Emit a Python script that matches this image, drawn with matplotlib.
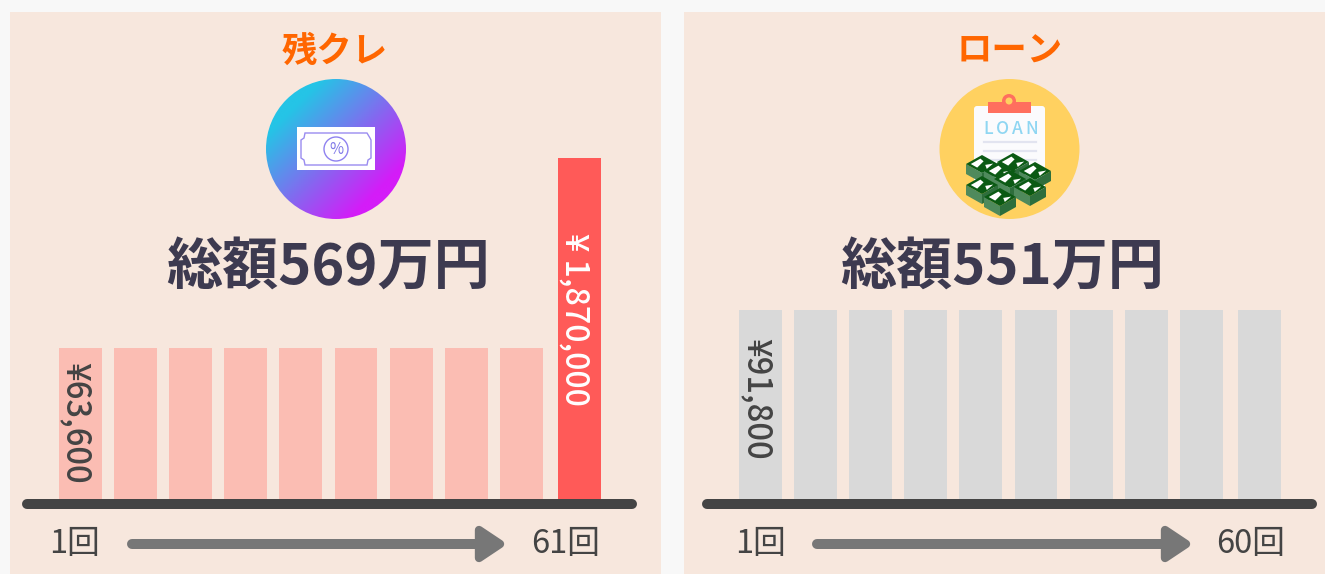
import numpy as np
import matplotlib
matplotlib.use("Agg")
import matplotlib.pyplot as plt
from matplotlib.patches import Rectangle, Circle, FancyBboxPatch, Polygon

plt.rcParams['font.family'] = ['Noto Sans CJK JP', 'DejaVu Sans']

W = 1325
H = 574

# bar heights are schematic in the picture, not proportional to the yen amounts
zan_heights = [151, 151, 151, 151, 151, 151, 151, 151, 151, 341]
loan_heights = [189, 189, 189, 189, 189, 189, 189, 189, 189, 189]
zan_labels = ["¥63,600", "¥ 1,870,000"]
loan_labels = ["¥91,800"]
zan_title = "残クレ"
loan_title = "ローン"
zan_total = "総額569万円"
loan_total = "総額551万円"
zan_first = "1回"
zan_last = "61回"
loan_first = "1回"
loan_last = "60回"

PALE = '#fbbdb3'
RED = '#ff5a58'
GRAY = '#d9d9d9'
DARK = '#444444'
ORANGE = '#ff6600'
NAVY = '#3d3a50'

fig = plt.figure(figsize=(W/100, H/100), dpi=100, facecolor='#f8f8f8')

# full-figure axes in pixels for panels, icons and captions
bg = fig.add_axes([0, 0, 1, 1])
bg.set_xlim(0, W)
bg.set_ylim(H, 0)
bg.axis('off')


def rounded_line(x0, x1, y, lw, color, z=3):
    bg.plot([x0 + lw/2, x1 - lw/2], [y, y], color=color, lw=lw*0.72,
            solid_capstyle='round', zorder=z)


def panel(x0, x1):
    bg.add_patch(Rectangle((x0, 12), x1 - x0, H - 12, color='#f7e7dd', lw=0, zorder=0))


def caption(title_x, total_x, title, total, base_x0, base_x1, first_x, last_x, arrow_x0, arrow_x1, first, last):
    bg.text(title_x, 51, title, color=ORANGE, fontsize=25.5, fontweight='bold',
            ha='center', va='center')
    bg.text(total_x, 269, total, color=NAVY, fontsize=40.4, fontweight='bold',
            ha='center', va='center')
    rounded_line(base_x0, base_x1, 504, 10, DARK)
    bg.text(first_x, 544, first, color=DARK, fontsize=23.5, ha='center', va='center')
    bg.text(last_x, 544, last, color=DARK, fontsize=23.5, ha='center', va='center')
    # arrow shaft and rounded head
    rounded_line(arrow_x0, arrow_x1 - 20, 544, 10, '#777777')
    head = Polygon([(arrow_x1 - 26, 530), (arrow_x1 - 5, 544), (arrow_x1 - 26, 558)],
                   closed=True, fc='#777777', ec='#777777', lw=6, joinstyle='round', zorder=3)
    bg.add_patch(head)


def bars(heights, colors, first_px):
    # one axes per chart, category step of 55.1 px, last bar set a little apart
    step = 55.1
    left = first_px - 0.5*step
    right = left + step*11
    ax = fig.add_axes([left/W, (H - 499)/H, (right - left)/W, 345/H])
    ax.set_xlim(-0.5, 10.5)
    ax.set_ylim(0, 345)
    ax.axis('off')
    x = np.arange(len(heights), dtype=float)
    x[-1] += 0.05
    ax.bar(x, heights, width=0.78, color=colors, linewidth=0)
    return ax, x


# left panel
panel(10, 661)
caption(335, 328, zan_title, zan_total, 22, 637, 74.5, 565.5, 127, 505, zan_first, zan_last)
ax_l, x_l = bars(zan_heights, [PALE]*9 + [RED], 80.5)
ax_l.text(x_l[0] - 0.1, 76.5, zan_labels[0], rotation=270, color=DARK, fontsize=23.6,
          ha='center', va='center', fontweight='medium')
ax_l.text(x_l[-1] - 0.09, 179.5, zan_labels[1], rotation=270, color='white', fontsize=23.2,
          ha='center', va='center', fontweight='medium')

# right panel
panel(684, 1335)
caption(1010, 1002.5, loan_title, loan_total, 702, 1317, 760, 1251, 812, 1191, loan_first, loan_last)
ax_r, x_r = bars(loan_heights, [GRAY]*10, 760.5)
ax_r.text(x_r[0] - 0.08, 100, loan_labels[0], rotation=270, color=DARK, fontsize=23.6,
          ha='center', va='center', fontweight='medium')

# left icon: gradient disc with a banknote
cx, cy, r = 336, 149, 70
yy, xx = np.mgrid[0:1:200j, 0:1:200j]
t = np.clip((xx + yy - 0.4) / 1.2, 0, 1)
c0 = np.array([0x25, 0xc4, 0xe6]) / 255
c1 = np.array([0xd4, 0x1c, 0xf8]) / 255
img = c0[None, None, :]*(1 - t[..., None]) + c1[None, None, :]*t[..., None]
im = bg.imshow(img, extent=(cx - r, cx + r, cy + r, cy - r), zorder=2, aspect='auto')
im.set_clip_path(Circle((cx, cy), r, transform=bg.transData))
bg.set_xlim(0, W)
bg.set_ylim(H, 0)

bg.add_patch(Rectangle((297, 127), 78, 43, fc='white', lw=0, zorder=3))
note = [(305, 133), (367, 133), (370, 138), (371, 140), (371, 158), (368, 160),
        (367, 165), (305, 165), (304, 160), (301, 158), (301, 140), (304, 138)]
bg.add_patch(Polygon(note, closed=True, fc='none', ec='#9a8cf0', lw=1, zorder=4))
bg.add_patch(Circle((336, 149), 12, fc='none', ec='#8f82f0', lw=1, zorder=4))
bg.text(336, 149, "%", color='#7f78e8', fontsize=11, ha='center', va='center', zorder=5)

# right icon: clipboard and stacks of money
bg.add_patch(Circle((1009.5, 149), 70, fc='#ffd160', lw=0, zorder=2))
bg.add_patch(FancyBboxPatch((974, 106), 71, 85, boxstyle='round,pad=0,rounding_size=3',
                            fc='#fbfbfd', lw=0, zorder=3))
bg.add_patch(Rectangle((988, 102), 43, 11, fc='#ff6f5e', lw=0, zorder=4))
bg.add_patch(Circle((1009, 101), 7, fc='#ff6f5e', lw=0, zorder=4))
bg.add_patch(Circle((1009, 101), 3.5, fc='#ffd160', lw=0, zorder=5))
for i, ch in enumerate("LOAN"):
    bg.text(988 + i*14.5, 129.5, ch, color='#8fd6f2', fontsize=12.5, fontweight='medium',
            ha='center', va='center', zorder=4)
for y in [142, 151, 160]:
    bg.plot([984, 1036], [y, y], color='#e2e4f0', lw=1.6, zorder=4)


def bundle(x, y, z):
    # isometric bundle: dark sides, white top, green band
    a, b, d = 16, 9, 10
    bg.add_patch(Polygon([(x - a, y), (x, y + b), (x, y + b + d), (x - a, y + d)],
                         fc='#4f8a5c', lw=0, zorder=z))
    bg.add_patch(Polygon([(x + a, y), (x, y + b), (x, y + b + d), (x + a, y + d)],
                         fc='#2e6e3c', lw=0, zorder=z))
    bg.add_patch(Polygon([(x - a, y), (x, y - b), (x + a, y), (x, y + b)],
                         fc='#0b5a14', lw=0, zorder=z))
    bg.add_patch(Polygon([(x - a*0.7, y), (x - a*0.1, y - b*0.6), (x + a*0.1, y - b*0.3),
                          (x - a*0.3, y + b*0.4)], fc='white', lw=0, zorder=z))
    bg.add_patch(Polygon([(x + a*0.2, y + b*0.1), (x + a*0.7, y - b*0.05),
                          (x + a*0.3, y + b*0.55)], fc='white', lw=0, zorder=z))


for i, (x, y) in enumerate([(1013, 162), (982, 164), (1000, 171), (1035, 171),
                            (1010, 179), (982, 185), (1030, 187), (1000, 197)]):
    bundle(x, y, 6 + i)

fig.savefig("out.png", dpi=100, facecolor=fig.get_facecolor())
